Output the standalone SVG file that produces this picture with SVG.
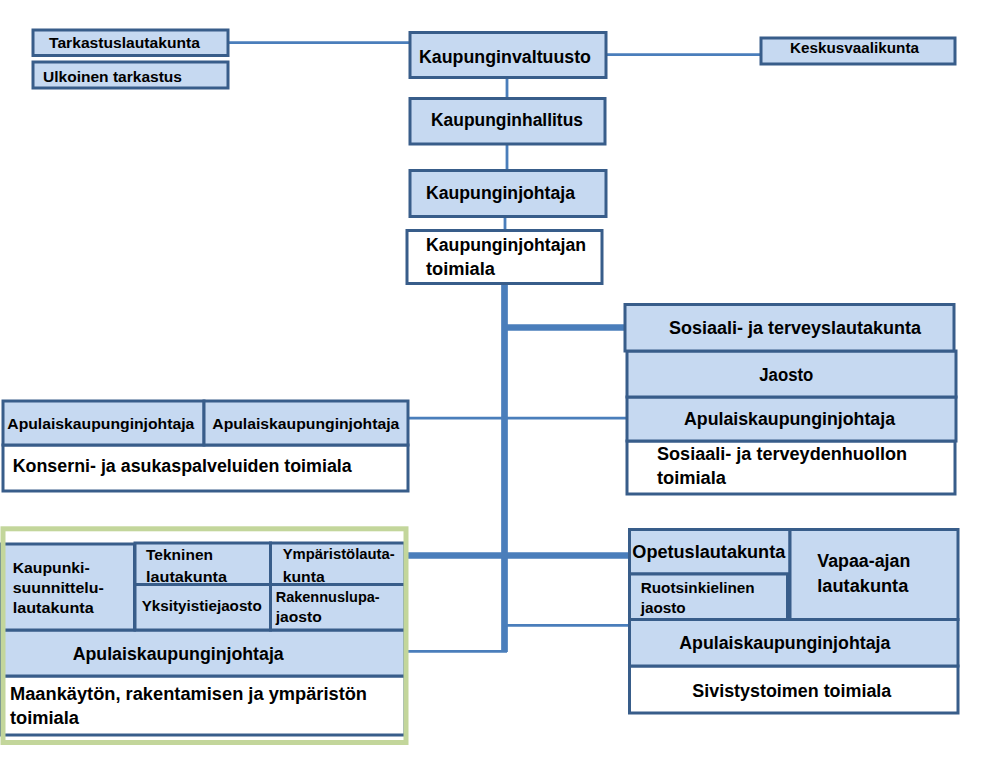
<svg xmlns="http://www.w3.org/2000/svg" width="998" height="772" viewBox="0 0 998 772">
<style>
.b{fill:#c6d9f1;stroke:#385d8a;stroke-width:3}
.w{fill:#ffffff;stroke:#385d8a;stroke-width:3}
.t{font-family:"Liberation Sans",Arial,sans-serif;font-weight:bold;fill:#000}
.L{font-size:18px}
.S{font-size:14.5px}
.c{stroke:#4a7ebb;fill:none}
.th{stroke-width:2.8}
.tk{stroke-width:6.7}
</style>
<rect width="998" height="772" fill="#ffffff"/>
<g id="connectors">
<line class="c th" x1="228" y1="42.7" x2="410" y2="42.7"/>
<line class="c th" x1="606" y1="54.7" x2="761" y2="54.7"/>
<line class="c th" x1="507" y1="78" x2="507" y2="98"/>
<line class="c th" x1="507" y1="144" x2="507" y2="170"/>
<line class="c th" x1="505" y1="216" x2="505" y2="238"/>
<line class="c tk" x1="504.5" y1="283" x2="504.5" y2="652"/>
<line class="c tk" x1="504.5" y1="327.5" x2="626" y2="327.5"/>
<line class="c th" x1="406" y1="418.2" x2="626" y2="418.2"/>
<line class="c tk" x1="408" y1="555.5" x2="630" y2="555.5"/>
<line class="c th" x1="504.5" y1="625.3" x2="633" y2="625.3"/>
<line class="c th" x1="408" y1="651.3" x2="507" y2="651.3"/>
</g>
<g id="tarkastuslautakunta">
<rect class="b" x="33" y="30" width="195" height="25.5"/>
<text class="t S" x="49" y="48.3" textLength="151" lengthAdjust="spacingAndGlyphs">Tarkastuslautakunta</text>
</g>
<g id="ulkoinen-tarkastus">
<rect class="b" x="33" y="62" width="195" height="26"/>
<text class="t S" x="43" y="81.7" textLength="139" lengthAdjust="spacingAndGlyphs">Ulkoinen tarkastus</text>
</g>
<g id="kaupunginvaltuusto">
<rect class="b" x="410" y="32.5" width="196" height="45"/>
<text class="t L" x="419" y="63" textLength="172" lengthAdjust="spacingAndGlyphs">Kaupunginvaltuusto</text>
</g>
<g id="keskusvaalikunta">
<rect class="b" x="761" y="38" width="194" height="26"/>
<text class="t S" x="790" y="52.5" textLength="129" lengthAdjust="spacingAndGlyphs">Keskusvaalikunta</text>
</g>
<g id="kaupunginhallitus">
<rect class="b" x="410" y="98.5" width="195" height="45.5"/>
<text class="t L" x="431" y="126.3" textLength="152" lengthAdjust="spacingAndGlyphs">Kaupunginhallitus</text>
</g>
<g id="kaupunginjohtaja">
<rect class="b" x="410" y="170.5" width="196" height="46"/>
<text class="t L" x="426" y="198.5" textLength="149" lengthAdjust="spacingAndGlyphs">Kaupunginjohtaja</text>
</g>
<g id="kaupunginjohtajan-toimiala">
<rect class="w" x="407" y="230.5" width="195" height="53"/>
<text class="t L" x="426" y="251" textLength="160" lengthAdjust="spacingAndGlyphs">Kaupunginjohtajan</text>
<text class="t L" x="426" y="275.3" textLength="69" lengthAdjust="spacingAndGlyphs">toimiala</text>
</g>
<g id="sosiaali-terveys">
<rect class="w" x="627" y="441" width="328" height="53"/>
<rect class="b" x="627" y="397" width="329" height="44"/>
<rect class="b" x="627" y="351" width="329" height="46"/>
<rect class="b" x="625" y="304.5" width="329" height="46.5"/>
<text class="t L" x="669" y="334.3" textLength="252" lengthAdjust="spacingAndGlyphs">Sosiaali- ja terveyslautakunta</text>
<text class="t L" x="759.3" y="381.3" textLength="54" lengthAdjust="spacingAndGlyphs">Jaosto</text>
<text class="t L" x="684" y="425.3" textLength="211" lengthAdjust="spacingAndGlyphs">Apulaiskaupunginjohtaja</text>
<text class="t L" x="657" y="460.3" textLength="250" lengthAdjust="spacingAndGlyphs">Sosiaali- ja terveydenhuollon</text>
<text class="t L" x="657" y="484.3" textLength="69" lengthAdjust="spacingAndGlyphs">toimiala</text>
</g>
<g id="konserni">
<rect class="w" x="3" y="445" width="405" height="46"/>
<rect class="b" x="3" y="401" width="201" height="44"/>
<rect class="b" x="204" y="401" width="204" height="44"/>
<text class="t S" x="7.3" y="428.5" textLength="187" lengthAdjust="spacingAndGlyphs">Apulaiskaupunginjohtaja</text>
<text class="t S" x="212.3" y="428.5" textLength="187" lengthAdjust="spacingAndGlyphs">Apulaiskaupunginjohtaja</text>
<text class="t L" x="12.7" y="472" textLength="339" lengthAdjust="spacingAndGlyphs">Konserni- ja asukaspalveluiden toimiala</text>
</g>
<g id="maankaytto">
<rect x="3" y="528.8" width="403" height="213.7" fill="#ffffff"/>
<rect class="w" x="1" y="676" width="404" height="59"/>
<rect class="b" x="1" y="630" width="404" height="46"/>
<rect class="b" x="1" y="544" width="133.5" height="86"/>
<rect class="b" x="135" y="543" width="135.5" height="41.5"/>
<rect class="b" x="270.5" y="543" width="134.5" height="41.5"/>
<rect class="b" x="135" y="584.5" width="135.5" height="45.5"/>
<rect class="b" x="270.5" y="584.5" width="134.5" height="45.5"/>
<rect x="3" y="528.8" width="403" height="213.7" fill="none" stroke="#c3d69b" stroke-width="5"/>
<text class="t S" x="12.7" y="572.7" textLength="77" lengthAdjust="spacingAndGlyphs">Kaupunki-</text>
<text class="t S" x="12.7" y="592.7" textLength="91" lengthAdjust="spacingAndGlyphs">suunnittelu-</text>
<text class="t S" x="12.7" y="613.3" textLength="81" lengthAdjust="spacingAndGlyphs">lautakunta</text>
<text class="t S" x="146" y="560" textLength="67" lengthAdjust="spacingAndGlyphs">Tekninen</text>
<text class="t S" x="146" y="581.7" textLength="81" lengthAdjust="spacingAndGlyphs">lautakunta</text>
<text class="t S" x="282.7" y="559.3" textLength="112" lengthAdjust="spacingAndGlyphs">Ympäristölauta-</text>
<text class="t S" x="282.7" y="581.7" textLength="42" lengthAdjust="spacingAndGlyphs">kunta</text>
<text class="t S" x="141.7" y="610.7" textLength="120" lengthAdjust="spacingAndGlyphs">Yksityistiejaosto</text>
<text class="t S" x="275.7" y="601.7" textLength="104" lengthAdjust="spacingAndGlyphs">Rakennuslupa-</text>
<text class="t S" x="275.7" y="621.7" textLength="46" lengthAdjust="spacingAndGlyphs">jaosto</text>
<text class="t L" x="72.7" y="659.5" textLength="211" lengthAdjust="spacingAndGlyphs">Apulaiskaupunginjohtaja</text>
<text class="t L" x="10" y="699.5" textLength="357" lengthAdjust="spacingAndGlyphs">Maankäytön, rakentamisen ja ympäristön</text>
<text class="t L" x="10" y="724.3" textLength="69" lengthAdjust="spacingAndGlyphs">toimiala</text>
</g>
<g id="sivistystoimi">
<rect class="w" x="629.5" y="666" width="328.5" height="47"/>
<rect class="b" x="629.5" y="619.5" width="328.5" height="46.5"/>
<rect class="b" x="629.5" y="529.5" width="160.5" height="44.5"/>
<rect class="b" x="629.5" y="574" width="158" height="45.5"/>
<rect class="b" x="790" y="529.5" width="168" height="90"/>
<text class="t L" x="632.3" y="557.5" textLength="153" lengthAdjust="spacingAndGlyphs">Opetuslautakunta</text>
<text class="t S" x="640.7" y="593.3" textLength="114" lengthAdjust="spacingAndGlyphs">Ruotsinkielinen</text>
<text class="t S" x="640.7" y="613.3" textLength="45" lengthAdjust="spacingAndGlyphs">jaosto</text>
<text class="t L" x="817.3" y="567" textLength="93" lengthAdjust="spacingAndGlyphs">Vapaa-ajan</text>
<text class="t L" x="817.3" y="592" textLength="91" lengthAdjust="spacingAndGlyphs">lautakunta</text>
<text class="t L" x="679.3" y="649.3" textLength="211" lengthAdjust="spacingAndGlyphs">Apulaiskaupunginjohtaja</text>
<text class="t L" x="692.3" y="697" textLength="199" lengthAdjust="spacingAndGlyphs">Sivistystoimen toimiala</text>
</g>
</svg>
